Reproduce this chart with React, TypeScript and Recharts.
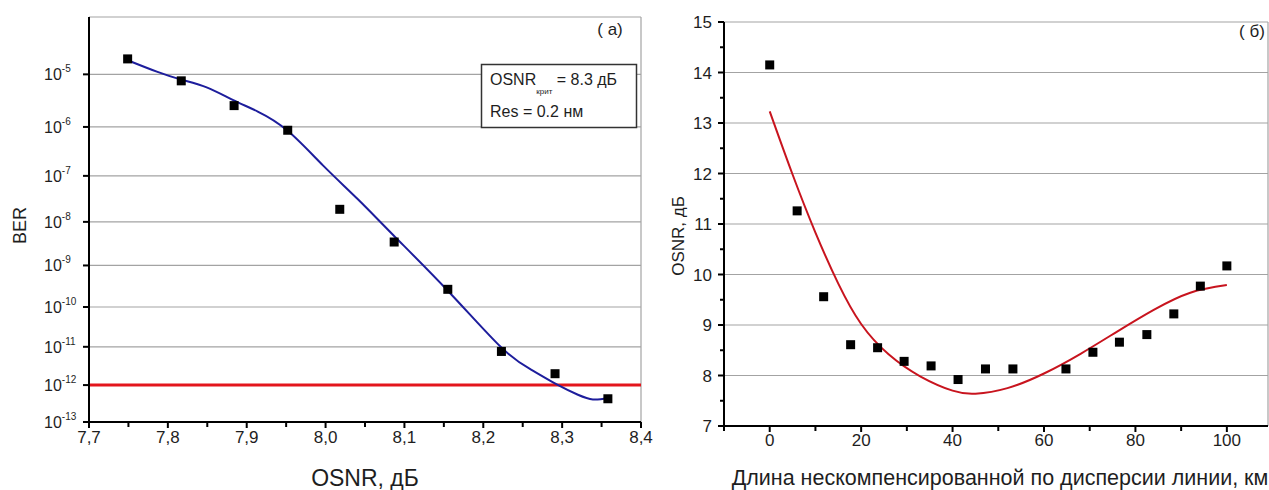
import React from 'react';
import {
  ComposedChart,
  Line,
  Scatter,
  XAxis,
  YAxis,
  CartesianGrid,
  ReferenceLine,
} from 'recharts';

// ---- (а) BER vs OSNR ----
const osnrMeasured = [7.749, 7.817, 7.884, 7.952, 8.018, 8.087, 8.155, 8.223, 8.291, 8.358];
const berMeasured = [1.9e-5, 7.6e-6, 2.6e-6, 8.6e-7, 1.9e-8, 3.5e-9, 2.7e-10, 7.6e-12, 2.0e-12, 4.3e-13];
const osnrFit = [7.749, 7.786, 7.817, 7.85, 7.883, 7.914, 7.952, 7.997, 8.041, 8.086, 8.155, 8.222, 8.26, 8.295, 8.32, 8.339, 8.358];
const berFit = [1.8e-5, 1.12e-5, 8.0e-6, 5.7e-6, 3.3e-6, 2.0e-6, 8.4e-7, 1.64e-7, 3.15e-8, 5.0e-9, 2.5e-10, 1.0e-11, 2.6e-12, 9.9e-13, 5.5e-13, 4.1e-13, 4.5e-13];
const berThreshold = 1e-12;
const osnrTicks = [7.7, 7.8, 7.9, 8.0, 8.1, 8.2, 8.3, 8.4];
const osnrMinorTicks = [7.75, 7.85, 7.95, 8.05, 8.15, 8.25, 8.35];
const osnrGrid = [7.8, 7.9, 8.0, 8.1, 8.2, 8.3];
const berDecades = [5, 6, 7, 8, 9, 10, 11, 12, 13]; // labels 10^-n
const berGridDecades = [5, 6, 7, 8, 9, 10, 11, 12];
const berTopDecade = 4;
const berBottomDecade = 13;

// ---- (б) required OSNR vs uncompensated length ----
const lengthMeasured = [0, 6.0, 11.8, 17.7, 23.6, 29.4, 35.3, 41.2, 47.2, 53.2, 64.8, 70.7, 76.5, 82.5, 88.4, 94.2, 100];
const osnrRequired = [14.15, 11.26, 9.56, 8.61, 8.55, 8.28, 8.19, 7.92, 8.13, 8.13, 8.13, 8.46, 8.66, 8.81, 9.22, 9.77, 10.17];
const lengthFit = [0, 5, 10, 15, 20, 26, 33, 40, 45, 52, 60, 68, 76, 84, 92, 100];
const osnrRequiredFit = [13.23, 11.98, 10.83, 9.82, 9.02, 8.42, 7.98, 7.7, 7.64, 7.75, 8.04, 8.43, 8.87, 9.3, 9.64, 9.79];
const lengthTicks = [0, 20, 40, 60, 80, 100];
const lengthMinorTicks = [-10, 10, 30, 50, 70, 90];
const osnrReqTicks = [7, 8, 9, 10, 11, 12, 13, 14, 15];
const osnrReqMinorTicks = [7.5, 8.5, 9.5, 10.5, 11.5, 12.5, 13.5, 14.5];
const osnrReqGrid = [8, 9, 10, 11, 12, 13, 14];

const FONT = '"Liberation Sans", Arial, Helvetica, sans-serif';
const TEXT = '#1e1e1e';
const GRID = '#a3a3a3';

// the BER axis in the original is not plain log: spacing shrinks with the exponent
const BER_POWER = 0.57;
const decadeToAxis = (n: number) => Math.pow(n, BER_POWER);
const berToAxis = (ber: number) => decadeToAxis(-Math.log10(ber));

const isIn = (list: number[], v: number) => list.some((m) => Math.abs(m - v) < 1e-6);

function SquareMarker(props: any) {
  const { cx, cy } = props;
  if (cx == null || cy == null) return null;
  return <rect x={cx - 4.5} y={cy - 4.5} width={9} height={9} fill="#000" />;
}

function BottomTick(props: any) {
  const { x, y, payload, majors, format, fontSize, labelDy } = props;
  const major = isIn(majors, payload.value);
  return (
    <g>
      <line x1={x} x2={x} y1={y} y2={y + (major ? 6 : 5)} stroke="#000" strokeWidth={2} />
      {major && (
        <text x={x} y={y + labelDy} textAnchor="middle" fontSize={fontSize} fill={TEXT} fontFamily={FONT}>
          {format(payload.value)}
        </text>
      )}
    </g>
  );
}

function BerTick(props: any) {
  const { x, y, payload } = props;
  const n = Math.round(Math.pow(payload.value, 1 / BER_POWER));
  return (
    <g>
      <line x1={x - 6} x2={x} y1={y} y2={y} stroke="#000" strokeWidth={2} />
      <text x={x - 45} y={y + 6} textAnchor="start" fontSize={16} fill={TEXT} fontFamily={FONT}>
        10
        <tspan dy={-8} fontSize={10}>{`-${n}`}</tspan>
      </text>
    </g>
  );
}

function OsnrReqTick(props: any) {
  const { x, y, payload } = props;
  const major = isIn(osnrReqTicks, payload.value);
  return (
    <g>
      <line x1={x - (major ? 6 : 4)} x2={x} y1={y} y2={y} stroke="#000" strokeWidth={2} />
      {major && (
        <text x={x - 12} y={y + 6} textAnchor="end" fontSize={17} fill={TEXT} fontFamily={FONT}>
          {payload.value}
        </text>
      )}
    </g>
  );
}

function BottomTitle(props: any) {
  const { viewBox, text, fontSize, baseline, dx = 0 } = props;
  if (!viewBox) return null;
  return (
    <text
      x={viewBox.x + viewBox.width / 2 + dx}
      y={viewBox.y + baseline}
      textAnchor="middle"
      fontSize={fontSize}
      fill={TEXT}
      fontFamily={FONT}
    >
      {text}
    </text>
  );
}

function SideTitle(props: any) {
  const { viewBox, text, fontSize, cx, dy = 0 } = props;
  if (!viewBox) return null;
  const x = viewBox.x + cx;
  const y = viewBox.y + viewBox.height / 2 + dy;
  return (
    <text
      x={x}
      y={y}
      transform={`rotate(-90 ${x} ${y})`}
      textAnchor="middle"
      dominantBaseline="central"
      fontSize={fontSize}
      fill={TEXT}
      fontFamily={FONT}
    >
      {text}
    </text>
  );
}

function BerChart() {
  const measured = osnrMeasured.map((x, i) => ({ x, t: berToAxis(berMeasured[i]) }));
  const fit = osnrFit.map((x, i) => ({ x, t: berToAxis(berFit[i]) }));
  const xTicks = [...osnrTicks, ...osnrMinorTicks].sort((a, b) => a - b);
  const yDomain = [decadeToAxis(berTopDecade), decadeToAxis(berBottomDecade)];

  return (
    <ComposedChart width={660} height={490} margin={{ top: 17, right: 19, bottom: 0, left: 0 }}>
      {/* hidden axes only feed the grid lines */}
      <XAxis xAxisId="grid" type="number" domain={[7.7, 8.4]} allowDataOverflow ticks={osnrGrid} interval={0} hide />
      <YAxis
        yAxisId="grid"
        type="number"
        domain={yDomain}
        reversed
        allowDataOverflow
        ticks={berGridDecades.map(decadeToAxis)}
        interval={0}
        hide
      />
      <CartesianGrid xAxisId="grid" yAxisId="grid" stroke={GRID} strokeWidth={1.2} />
      <XAxis
        type="number"
        dataKey="x"
        domain={[7.7, 8.4]}
        allowDataOverflow
        ticks={xTicks}
        interval={0}
        height={68}
        tickSize={0}
        tickMargin={0}
        tickLine={false}
        axisLine={{ stroke: '#000', strokeWidth: 2 }}
        tick={(p: any) => (
          <BottomTick
            {...p}
            majors={osnrTicks}
            format={(v: number) => v.toFixed(1).replace('.', ',')}
            fontSize={17}
            labelDy={21}
          />
        )}
        label={(p: any) => <BottomTitle {...p} text="OSNR, дБ" fontSize={23} baseline={64} />}
      />
      <YAxis
        type="number"
        dataKey="t"
        domain={yDomain}
        reversed
        allowDataOverflow
        ticks={berDecades.map(decadeToAxis)}
        interval={0}
        width={89}
        tickSize={0}
        tickMargin={0}
        tickLine={false}
        axisLine={{ stroke: '#000', strokeWidth: 2 }}
        tick={(p: any) => <BerTick {...p} />}
        label={(p: any) => <SideTitle {...p} text="BER" fontSize={18} cx={20} dy={6} />}
      />
      <ReferenceLine y={berToAxis(berThreshold)} stroke="#e3161c" strokeWidth={3} />
      <Line
        data={fit}
        dataKey="t"
        type="natural"
        stroke="#1d1d9c"
        strokeWidth={2}
        dot={false}
        activeDot={false}
        isAnimationActive={false}
      />
      <Scatter data={measured} dataKey="t" shape={SquareMarker} isAnimationActive={false} />
    </ComposedChart>
  );
}

function LengthChart() {
  const measured = lengthMeasured.map((x, i) => ({ x, y: osnrRequired[i] }));
  const fit = lengthFit.map((x, i) => ({ x, y: osnrRequiredFit[i] }));
  const xTicks = [...lengthTicks, ...lengthMinorTicks].sort((a, b) => a - b);
  const yTicks = [...osnrReqTicks, ...osnrReqMinorTicks].sort((a, b) => a - b);

  return (
    <ComposedChart width={609} height={490} margin={{ top: 22, right: 1, bottom: 0, left: 0 }}>
      <XAxis xAxisId="grid" type="number" domain={[-10, 109]} allowDataOverflow ticks={lengthTicks} interval={0} hide />
      <YAxis yAxisId="grid" type="number" domain={[7, 15]} allowDataOverflow ticks={osnrReqGrid} interval={0} hide />
      <CartesianGrid xAxisId="grid" yAxisId="grid" stroke={GRID} strokeWidth={1.2} />
      <XAxis
        type="number"
        dataKey="x"
        domain={[-10, 109]}
        allowDataOverflow
        ticks={xTicks}
        interval={0}
        height={64}
        tickSize={0}
        tickMargin={0}
        tickLine={false}
        axisLine={{ stroke: '#000', strokeWidth: 2 }}
        tick={(p: any) => (
          <BottomTick {...p} majors={lengthTicks} format={(v: number) => String(v)} fontSize={17} labelDy={20} />
        )}
        label={(p: any) => (
          <BottomTitle
            {...p}
            text="Длина нескомпенсированной по дисперсии линии, км"
            fontSize={21.5}
            baseline={59}
            dx={4}
          />
        )}
      />
      <YAxis
        type="number"
        dataKey="y"
        domain={[7, 15]}
        allowDataOverflow
        ticks={yTicks}
        interval={0}
        width={64}
        tickSize={0}
        tickMargin={0}
        tickLine={false}
        axisLine={{ stroke: '#000', strokeWidth: 2 }}
        tick={(p: any) => <OsnrReqTick {...p} />}
        label={(p: any) => <SideTitle {...p} text="OSNR, дБ" fontSize={17} cx={18} dy={12} />}
      />
      <Line
        data={fit}
        dataKey="y"
        type="natural"
        stroke="#c8141e"
        strokeWidth={2}
        dot={false}
        activeDot={false}
        isAnimationActive={false}
      />
      <Scatter data={measured} dataKey="y" shape={SquareMarker} isAnimationActive={false} />
    </ComposedChart>
  );
}

export default function App() {
  return (
    <div
      style={{
        position: 'absolute',
        left: 0,
        top: 0,
        width: 1269,
        height: 490,
        background: '#fff',
        fontFamily: FONT,
        overflow: 'hidden',
      }}
    >
      <div style={{ position: 'absolute', left: 0, top: 0 }}>
        <BerChart />
      </div>
      <div style={{ position: 'absolute', left: 660, top: 0 }}>
        <LengthChart />
      </div>
      {/* annotations: panel letters and the parameter box */}
      <svg
        width={1269}
        height={490}
        style={{ position: 'absolute', left: 0, top: 0, pointerEvents: 'none' }}
        fontFamily={FONT}
      >
        <text x={610} y={35} textAnchor="middle" fontSize={17} fill={TEXT}>
          ( а)
        </text>
        <text x={1252} y={37} textAnchor="middle" fontSize={17} fill={TEXT}>
          ( б)
        </text>
        <rect x={481.5} y={64.5} width={155} height={63} fill="#fff" stroke="#333" strokeWidth={1.5} />
        <text x={490} y={85} fontSize={16} fill={TEXT}>
          OSNR
          <tspan dy={9} fontSize={8}>крит</tspan>
          <tspan dy={-9} fontSize={16}>{' = 8.3 дБ'}</tspan>
        </text>
        <text x={490} y={117} fontSize={16} fill={TEXT}>
          Res = 0.2 нм
        </text>
      </svg>
    </div>
  );
}
